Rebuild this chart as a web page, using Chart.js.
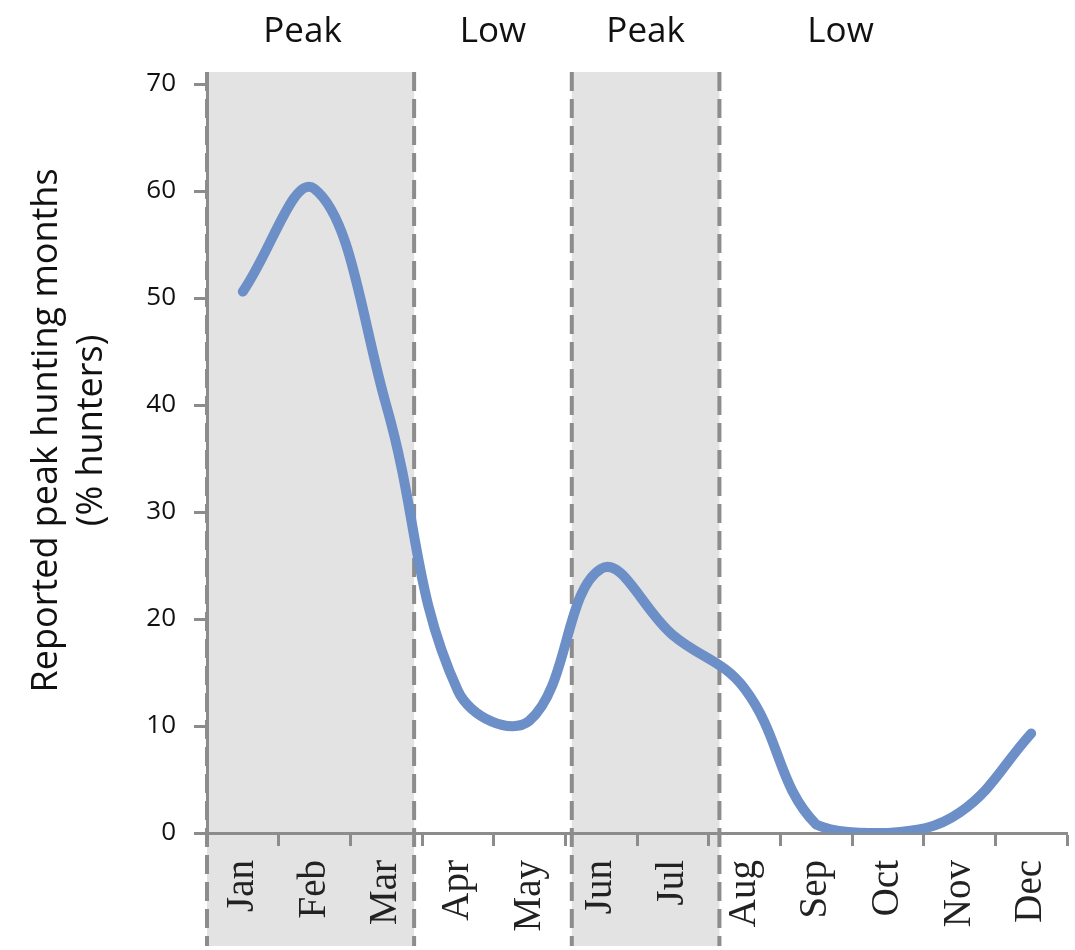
<!DOCTYPE html>
<html lang="en">
<head>
    <meta charset="UTF-8">
    <title>Peak hunting months</title>
    <script src="https://cdn.jsdelivr.net/npm/chart.js"></script>
    <style>
        body { margin: 0; background: #fff; }
    </style>
</head>
<body>
<canvas id="diagram" width="1075" height="950"></canvas>
<script>
    const months = ["Jan", "Feb", "Mar", "Apr", "May", "Jun", "Jul", "Aug", "Sep", "Oct", "Nov", "Dec"];
    const hunters = [50.6, 60.2, 40, 13.3, 10.5, 24.7, 18.5, 13.5, 0.8, 0, 1.9, 9.3];
    const yTicks = [0, 10, 20, 30, 40, 50, 60, 70];

    // seasons, in month-index units (edges as they sit in the picture)
    const seasonNames = ["Peak", "Low", "Peak", "Low"];
    const seasonStart = [-0.5, 2.39, 4.59, 6.65];
    const seasonEnd = [2.39, 4.59, 6.65, 10.03];
    const seasonShaded = [true, false, true, false];

    const seasonsPlugin = {
        id: "seasons",
        beforeDraw(chart) {
            const ctx = chart.ctx;
            const x = chart.scales.x;
            const top = chart.chartArea.top - 12;
            const bottom = chart.height - 4;
            ctx.save();
            ctx.fillStyle = "#e3e3e3";
            seasonNames.forEach((name, i) => {
                if (!seasonShaded[i]) return;
                const x0 = x.getPixelForValue(seasonStart[i]);
                const x1 = x.getPixelForValue(seasonEnd[i]);
                ctx.fillRect(x0, top, x1 - x0, bottom - top);
            });
            // dashed borders
            ctx.strokeStyle = "#8c8c8c";
            ctx.lineWidth = 4;
            ctx.setLineDash([19, 8]);
            const edges = new Set();
            seasonNames.forEach((name, i) => {
                if (!seasonShaded[i]) return;
                edges.add(seasonStart[i]);
                edges.add(seasonEnd[i]);
            });
            edges.forEach(v => {
                const px = x.getPixelForValue(v);
                ctx.beginPath();
                ctx.moveTo(px, top);
                ctx.lineTo(px, bottom);
                ctx.stroke();
            });
            ctx.setLineDash([]);
            // season headers
            ctx.fillStyle = "#111";
            ctx.font = "35px 'Open Sans'";
            ctx.textAlign = "center";
            ctx.textBaseline = "middle";
            seasonNames.forEach((name, i) => {
                const mid = x.getPixelForValue((seasonStart[i] + seasonEnd[i]) / 2);
                ctx.fillText(name, i === 0 ? mid - 8 : mid, 32);
            });
            ctx.restore();
        }
    };

    Chart.defaults.font.family = "'Open Sans'";

    var chart = new Chart("diagram", {
        type: "line",
        data: {
            labels: months,
            datasets: [{
                label: "Reported peak hunting months",
                data: hunters,
                borderColor: "#6b8fc6",
                borderWidth: 10,
                borderCapStyle: "round",
                borderJoinStyle: "round",
                tension: 0.4,
                pointRadius: 0,
                fill: false
            }]
        },
        options: {
            responsive: false,
            animation: false,
            layout: {
                padding: {top: 84, right: 8, left: 0, bottom: 0}
            },
            plugins: {
                legend: {display: false},
                tooltip: {enabled: false}
            },
            scales: {
                x: {
                    offset: true,
                    afterFit: (scale) => {
                        scale.height = 117;
                        scale.paddingLeft = 0;
                        scale.paddingRight = 0;
                    },
                    grid: {
                        offset: true,
                        drawOnChartArea: false,
                        drawTicks: true,
                        tickLength: 13,
                        tickColor: "#8c8c8c",
                        tickWidth: 3
                    },
                    border: {color: "#8c8c8c", width: 3},
                    ticks: {
                        autoSkip: false,
                        minRotation: 90,
                        maxRotation: 90,
                        padding: 14,
                        color: "#222",
                        font: {family: "'Liberation Serif'", size: 39}
                    }
                },
                y: {
                    min: 0,
                    max: 70,
                    afterFit: (scale) => { scale.width = 207; },
                    afterBuildTicks: (scale) => { scale.ticks = yTicks.map(v => ({value: v})); },
                    grid: {
                        drawOnChartArea: false,
                        drawTicks: true,
                        tickLength: 13,
                        tickColor: "#8c8c8c",
                        tickWidth: 3
                    },
                    border: {color: "#8c8c8c", width: 3},
                    ticks: {
                        padding: 18,
                        color: "#111",
                        font: {size: 26}
                    },
                    title: {
                        display: true,
                        // leading spaces lift the centred title a little, as in the source
                        text: ["      Reported peak hunting months", "      (% hunters)"],
                        color: "#111",
                        font: {size: 36, lineHeight: 1.25},
                        padding: {top: 24, bottom: 0}
                    }
                }
            }
        },
        plugins: [seasonsPlugin]
    });
</script>
</body>
</html>
